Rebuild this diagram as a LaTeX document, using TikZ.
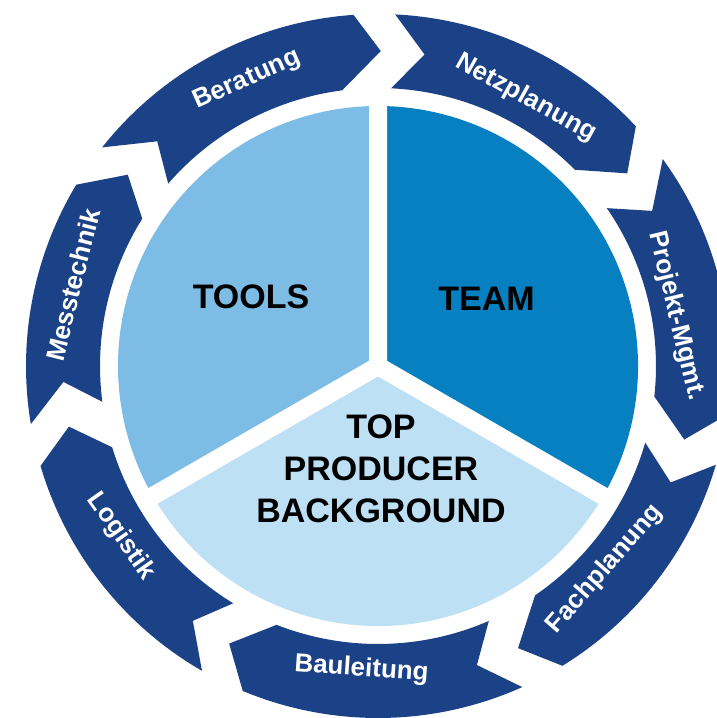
\documentclass[tikz,border=0pt]{standalone}
\usepackage{fontspec}
\setmainfont{Liberation Sans}
\definecolor{ringblue}{HTML}{1B4286}
\definecolor{toolsblue}{HTML}{7DBCE5}
\definecolor{teamblue}{HTML}{0680C1}
\definecolor{topblue}{HTML}{BEE0F4}
\newcommand\ringarrow[6]{%
  \fill[ringblue] (#1:352pt) arc[start angle=#1, end angle=#4, radius=352pt]
    -- (#6:315pt) -- (#5:278pt) arc[start angle=#5, end angle=#2, radius=278pt]
    -- (#3:315pt) -- cycle;}
\tikzset{
  ringlbl/.style={text=white, font=\fontsize{26}{30}\selectfont\bfseries, inner sep=0pt},
  pielbl/.style={text=black, font=\fontsize{34}{42}\selectfont\bfseries, align=center, inner sep=0pt}
}
\begin{document}
\begin{tikzpicture}[x=1pt,y=1pt]
\useasboundingbox (0,0) rectangle (716,718);
\fill[white] (0,0) rectangle (716,718);
\begin{scope}[shift={(378,352)}]
  % pie
  \fill[toolsblue] (0,0) -- (90:260pt) arc[start angle=90, end angle=210, radius=260pt] -- cycle;
  \fill[teamblue] (0,0) -- (-30:260pt) arc[start angle=-30, end angle=90, radius=260pt] -- cycle;
  \fill[topblue] (0,0) -- (210:260pt) arc[start angle=210, end angle=330, radius=260pt] -- cycle;
  \draw[white, line width=18pt] (0,0) -- (90:270pt) (0,0) -- (210:270pt) (0,0) -- (330:270pt);
  % ring arrows
  \ringarrow{141.6}{139}{134.5}{94}{97.4}{89.5}
  \ringarrow{87.2}{87.3}{81.5}{42.9}{44.9}{37.7}
  \ringarrow{36}{34.6}{29.5}{-8}{-6.3}{-13.5}
  \ringarrow{-16.3}{-16}{-21.7}{-58.4}{-55.6}{-63.6}
  \ringarrow{-65.8}{-66.5}{-71.7}{-112.6}{-111.4}{-118.2}
  \ringarrow{-120}{-121.4}{-126}{-163.5}{-163}{-168.9}
  \ringarrow{-170.5}{-172.6}{-177.1}{-211}{-212}{-217.4}
\end{scope}
% pie labels
\node[pielbl] (tools) at (251,421) {TOOLS};
\node[pielbl] (team) at (486.5,419) {TEAM};
\node[pielbl] (top) at (381,249) {TOP\\PRODUCER\\BACKGROUND};
% ring labels
\node[ringlbl, rotate=24] (beratung) at (247,638) {Beratung};
\node[ringlbl, rotate=-29] (netz) at (526,620) {Netzplanung};
\node[ringlbl, rotate=-76.4] (projekt) at (676,402) {Projekt-Mgmt.};
\node[ringlbl, rotate=49] (fach) at (605,149) {Fachplanung};
\node[ringlbl, rotate=-4] (bau) at (361.5,48.5) {Bauleitung};
\node[ringlbl, rotate=-55] (logistik) at (121,181.5) {Logistik};
\node[ringlbl, rotate=76] (mess) at (73,433) {Messtechnik};
\end{tikzpicture}
\end{document}
